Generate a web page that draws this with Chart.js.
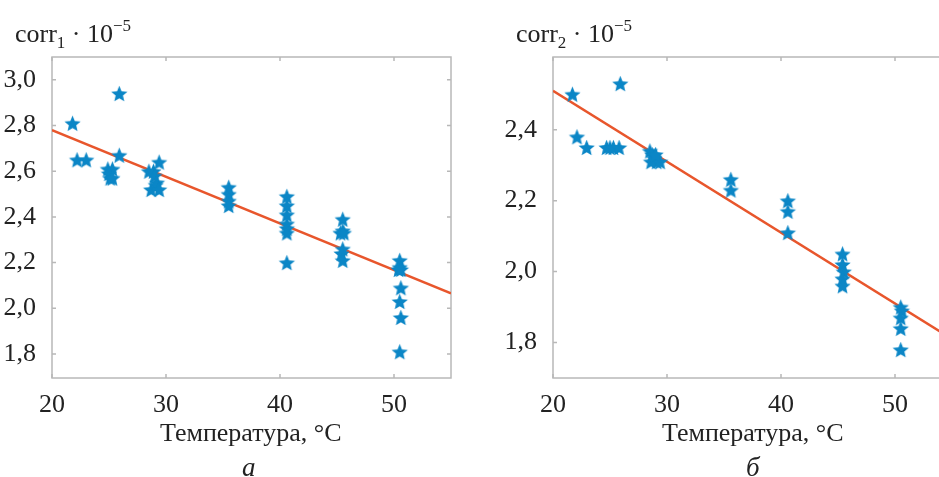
<!DOCTYPE html>
<html>
<head>
<meta charset="utf-8">
<script src="https://cdn.jsdelivr.net/npm/chart.js@4.4.1/dist/chart.umd.min.js"></script>
<style>
  html, body { margin: 0; padding: 0; background: #fff; width: 939px; height: 477px; overflow: hidden; }
  .wrap { position: absolute; top: 0; }
  .lbl { position: absolute; font-family: 'Liberation Serif', serif; color: #222; white-space: nowrap; }
  .sub { font-size: 17px; position: relative; top: 6px; }
  .sup { font-size: 17px; position: relative; top: -11px; }
</style>
</head>
<body>
<div class="wrap" style="left:0"><canvas id="chart1" width="470" height="477"></canvas></div>
<div class="wrap" style="left:470px"><canvas id="chart2" width="500" height="477"></canvas></div>

<div class="lbl" style="left:15px;top:19px;font-size:26px">corr<span class="sub">1</span> · 10<span class="sup">−5</span></div>
<div class="lbl" style="left:516px;top:19px;font-size:26px">corr<span class="sub">2</span> · 10<span class="sup">−5</span></div>
<div class="lbl" style="left:160px;top:418px;font-size:26px">Температура, °C</div>
<div class="lbl" style="left:662px;top:418px;font-size:26px">Температура, °C</div>
<div class="lbl" style="left:242px;top:452px;font-size:27px;font-style:italic">а</div>
<div class="lbl" style="left:746px;top:452px;font-size:27px;font-style:italic">б</div>

<script>
// data
const temp1 = [21.8, 25.9, 25.9, 22.2, 23.0, 24.9, 25.3, 25.0, 25.1, 25.3,
               28.5, 28.9, 29.0, 29.2, 29.1, 28.7, 29.4, 29.4,
               35.5, 35.5, 35.5, 35.5,
               40.6, 40.6, 40.6, 40.6, 40.6, 40.6, 40.6,
               45.5, 45.5, 45.3, 45.6, 45.5, 45.4, 45.5,
               50.5, 50.5, 50.4, 50.6, 50.6, 50.5, 50.6, 50.5];
const corr1 = [2.81, 2.94, 2.67, 2.65, 2.65, 2.61, 2.61, 2.59, 2.57, 2.57,
               2.60, 2.60, 2.58, 2.55, 2.54, 2.52, 2.52, 2.64,
               2.53, 2.50, 2.47, 2.45,
               2.49, 2.45, 2.41, 2.37, 2.35, 2.33, 2.20,
               2.39, 2.34, 2.33, 2.33, 2.26, 2.24, 2.21,
               2.21, 2.18, 2.17, 2.17, 2.09, 2.03, 1.96, 1.81];

const temp2 = [21.7, 25.9, 22.1, 22.95, 24.7, 25.0, 25.3, 25.8,
               28.5, 28.7, 28.9, 29.1, 28.6, 29.4, 29.0,
               35.6, 35.6,
               40.6, 40.6, 40.6,
               45.4, 45.4, 45.5, 45.4, 45.4,
               50.5, 50.6, 50.5, 50.5, 50.5];
const corr2 = [2.50, 2.53, 2.38, 2.35, 2.35, 2.35, 2.35, 2.35,
               2.34, 2.33, 2.32, 2.31, 2.31, 2.31, 2.33,
               2.26, 2.23,
               2.20, 2.17, 2.11,
               2.05, 2.02, 2.00, 1.98, 1.96,
               1.90, 1.89, 1.87, 1.84, 1.78];

// fitted lines (endpoints at x = 20 and x = 55)
const fitX = [20, 55];
const fit1 = [2.78, 2.065];
const fit2 = [2.51, 1.81];

const xTicks = [20, 30, 40, 50];
const yTicks1 = [1.8, 2.0, 2.2, 2.4, 2.6, 2.8, 3.0];
const yTicks2 = [1.8, 2.0, 2.2, 2.4];

const starColor = '#0b86c6';
const lineColor = '#e8562c';
const frameColor = '#b8b8b8';
const font = { family: "'Liberation Serif', serif", size: 26 };

function makeStar(r, color) {
    const c = document.createElement('canvas');
    c.width = c.height = Math.ceil(r * 2 + 2);
    const g = c.getContext('2d');
    const cx = c.width / 2, cy = c.height / 2 + 0.8;
    g.beginPath();
    for (let i = 0; i < 10; i++) {
        const rad = i % 2 === 0 ? r : r * 0.45;
        const a = -Math.PI / 2 + i * Math.PI / 5;
        g.lineTo(cx + rad * Math.cos(a), cy + rad * Math.sin(a));
    }
    g.closePath();
    g.fillStyle = color;
    g.fill();
    return c;
}
const star = makeStar(8.5, starColor);

// box around plot area with short inward ticks on all sides
const framePlugin = {
    id: 'frame',
    beforeDatasetsDraw(chart) {
        const { ctx, chartArea: a, scales } = chart;
        ctx.save();
        ctx.strokeStyle = frameColor;
        ctx.lineWidth = 1.5;
        ctx.strokeRect(a.left, a.top, a.right - a.left, a.bottom - a.top);
        ctx.beginPath();
        scales.x.ticks.forEach(t => {
            const px = scales.x.getPixelForValue(t.value);
            ctx.moveTo(px, a.bottom); ctx.lineTo(px, a.bottom - 4);
            ctx.moveTo(px, a.top); ctx.lineTo(px, a.top + 4);
        });
        scales.y.ticks.forEach(t => {
            const py = scales.y.getPixelForValue(t.value);
            ctx.moveTo(a.left, py); ctx.lineTo(a.left + 4, py);
            ctx.moveTo(a.right, py); ctx.lineTo(a.right - 4, py);
        });
        ctx.stroke();
        ctx.restore();
    }
};

function makeChart(id, temps, vals, fit, yTicks, yMin, yMax, yWidth, padRight) {
    const points = temps.map((t, i) => ({ x: t, y: vals[i] }));
    const line = fitX.map((t, i) => ({ x: t, y: fit[i] }));
    return new Chart(document.getElementById(id), {
        type: 'scatter',
        data: {
            datasets: [{
                data: points,
                pointStyle: star,
                pointRadius: 8
            }, {
                type: 'line',
                data: line,
                borderColor: lineColor,
                borderWidth: 2.5,
                pointRadius: 0,
                fill: false
            }]
        },
        options: {
            responsive: false,
            animation: false,
            layout: { padding: { top: 57, right: padRight, bottom: 0, left: 0 } },
            plugins: { legend: { display: false }, tooltip: { enabled: false } },
            scales: {
                x: {
                    type: 'linear', min: 20, max: 55,
                    grid: { display: false }, border: { display: false },
                    afterBuildTicks: s => { s.ticks = xTicks.map(v => ({ value: v })); },
                    afterFit: s => { s.height = 99; },
                    ticks: { font: font, color: '#222', padding: 4, maxRotation: 0 }
                },
                y: {
                    type: 'linear', min: yMin, max: yMax,
                    grid: { display: false }, border: { display: false },
                    afterBuildTicks: s => { s.ticks = yTicks.map(v => ({ value: v })); },
                    afterFit: s => { s.width = yWidth; },
                    ticks: {
                        font: font, color: '#222', padding: 8,
                        callback: v => v.toFixed(1).replace('.', ',')
                    }
                }
            }
        },
        plugins: [framePlugin]
    });
}

makeChart('chart1', temp1, corr1, fit1, yTicks1, 1.695, 3.1, 52, 19);
makeChart('chart2', temp2, corr2, fit2, yTicks2, 1.7, 2.605, 83, 18);
</script>
</body>
</html>
